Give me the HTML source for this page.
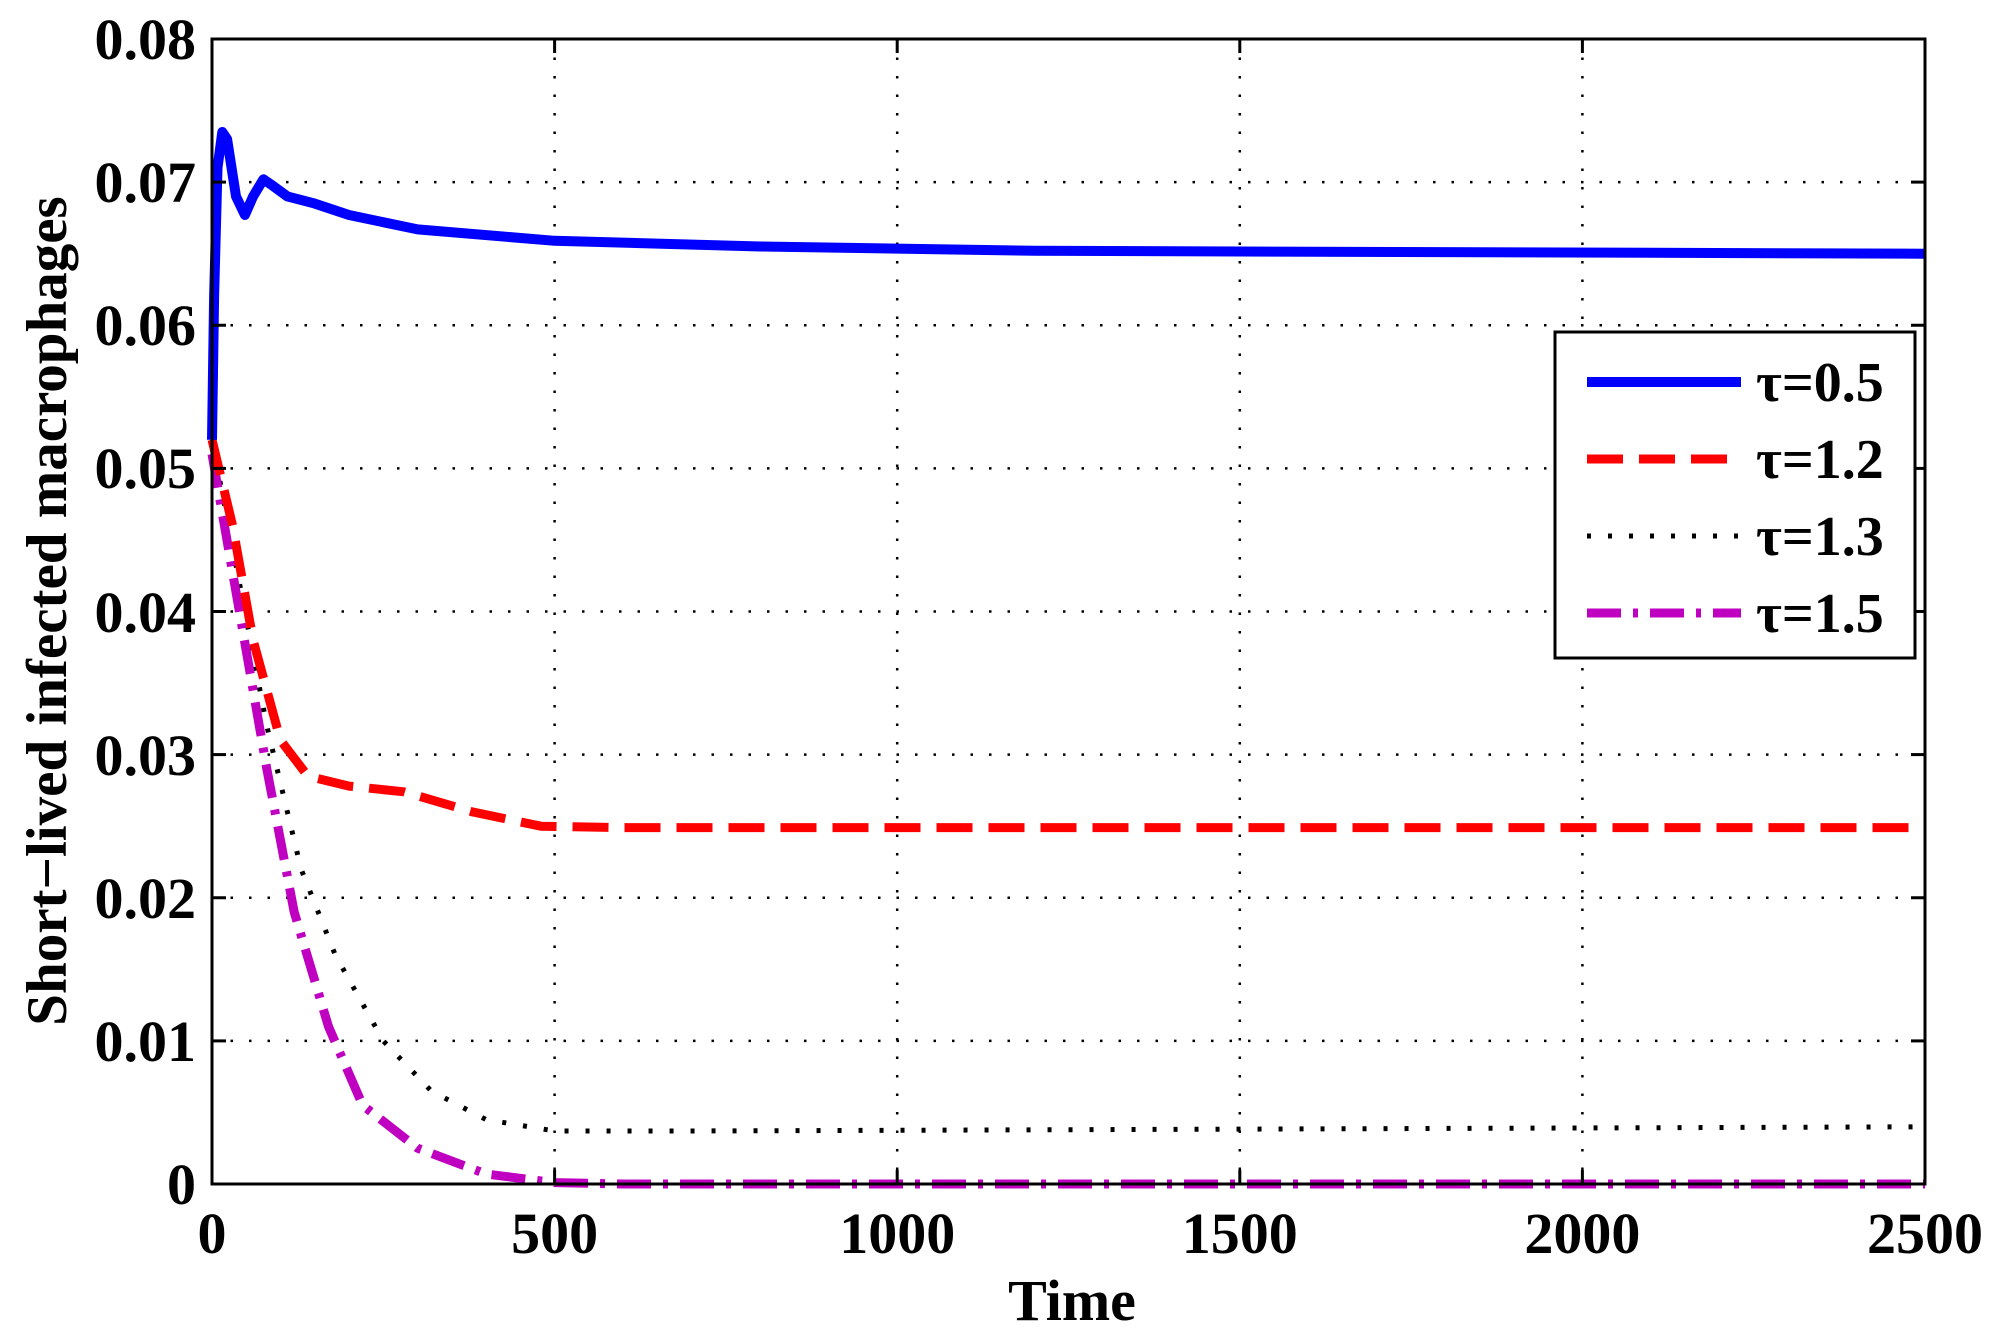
<!DOCTYPE html>
<html><head><meta charset="utf-8"><style>
html,body{margin:0;padding:0;background:#fff;}
svg text{font-family:"Liberation Serif",serif;font-weight:bold;fill:#000;}
</style></head><body>
<svg width="2005" height="1334" viewBox="0 0 2005 1334" xmlns="http://www.w3.org/2000/svg">
<rect width="2005" height="1334" fill="#fff"/>
<g stroke="#000" stroke-width="2.5" stroke-dasharray="2.5 16">
<line x1="554.6" y1="39" x2="554.6" y2="1184"/>
<line x1="897.2" y1="39" x2="897.2" y2="1184"/>
<line x1="1239.8" y1="39" x2="1239.8" y2="1184"/>
<line x1="1582.4" y1="39" x2="1582.4" y2="1184"/>
<line x1="212" y1="1040.9" x2="1925" y2="1040.9"/>
<line x1="212" y1="897.75" x2="1925" y2="897.75"/>
<line x1="212" y1="754.6" x2="1925" y2="754.6"/>
<line x1="212" y1="611.5" x2="1925" y2="611.5"/>
<line x1="212" y1="468.4" x2="1925" y2="468.4"/>
<line x1="212" y1="325.25" x2="1925" y2="325.25"/>
<line x1="212" y1="182.1" x2="1925" y2="182.1"/>
</g>
<g fill="none" stroke-linejoin="round">
<polyline stroke="#000" stroke-width="5" stroke-dasharray="4 17" points="212,439.8 239.4,582.9 266.8,726 301.1,869.1 335.3,955 383.3,1040.9 431.3,1091 486.1,1119.6 554.6,1131 691.6,1131 1925,1126.8"/>
<polyline stroke="#c000c0" stroke-width="9" stroke-dasharray="34 12 5 12" points="212,454.1 239.4,611.5 266.8,768.9 294.2,912.1 328.5,1026.6 362.7,1105.3 417.6,1148.2 486.1,1174 554.6,1182.6 623.1,1184 1925,1184"/>
<polyline stroke="#ff0000" stroke-width="9" stroke-dasharray="36 16" points="212,439.8 232.6,525.6 253.1,640.1 280.5,740.3 307.9,776.1 349,786.1 403.9,791.8 472.4,811.9 540.9,826.2 623.1,827.6 1925,827.6"/>
<polyline stroke="#0000ff" stroke-width="10" points="212,439.8 214.1,296.6 217.5,167.8 222.3,132 227.1,139.2 236,196.4 244.9,215 253.1,196.4 263.4,179.3 273.7,186.4 287.4,196.4 314.8,203.6 349,215 417.6,229.4 554.6,240.8 760.2,246.5 1034.2,250.8 1925,253.7"/>
</g>
<rect x="212" y="39" width="1713" height="1145" fill="none" stroke="#000" stroke-width="3"/>
<g stroke="#000" stroke-width="3">
<line x1="554.6" y1="1184" x2="554.6" y2="1170"/><line x1="554.6" y1="39" x2="554.6" y2="53"/>
<line x1="897.2" y1="1184" x2="897.2" y2="1170"/><line x1="897.2" y1="39" x2="897.2" y2="53"/>
<line x1="1239.8" y1="1184" x2="1239.8" y2="1170"/><line x1="1239.8" y1="39" x2="1239.8" y2="53"/>
<line x1="1582.4" y1="1184" x2="1582.4" y2="1170"/><line x1="1582.4" y1="39" x2="1582.4" y2="53"/>
<line x1="212" y1="1040.9" x2="226" y2="1040.9"/><line x1="1925" y1="1040.9" x2="1911" y2="1040.9"/>
<line x1="212" y1="897.75" x2="226" y2="897.75"/><line x1="1925" y1="897.75" x2="1911" y2="897.75"/>
<line x1="212" y1="754.6" x2="226" y2="754.6"/><line x1="1925" y1="754.6" x2="1911" y2="754.6"/>
<line x1="212" y1="611.5" x2="226" y2="611.5"/><line x1="1925" y1="611.5" x2="1911" y2="611.5"/>
<line x1="212" y1="468.4" x2="226" y2="468.4"/><line x1="1925" y1="468.4" x2="1911" y2="468.4"/>
<line x1="212" y1="325.25" x2="226" y2="325.25"/><line x1="1925" y1="325.25" x2="1911" y2="325.25"/>
<line x1="212" y1="182.1" x2="226" y2="182.1"/><line x1="1925" y1="182.1" x2="1911" y2="182.1"/>
</g>
<g font-size="58" text-anchor="middle">
<text x="212" y="1253">0</text>
<text x="554.6" y="1253">500</text>
<text x="897.2" y="1253">1000</text>
<text x="1239.8" y="1253">1500</text>
<text x="1582.4" y="1253">2000</text>
<text x="1925" y="1253">2500</text>
</g>
<g font-size="58" text-anchor="end">
<text x="196" y="1204">0</text>
<text x="196" y="1061">0.01</text>
<text x="196" y="918">0.02</text>
<text x="196" y="775">0.03</text>
<text x="196" y="632">0.04</text>
<text x="196" y="488">0.05</text>
<text x="196" y="345">0.06</text>
<text x="196" y="202">0.07</text>
<text x="196" y="59">0.08</text>
</g>
<text x="1072" y="1320" font-size="58" text-anchor="middle">Time</text>
<text transform="translate(66,611) rotate(-90)" font-size="57" text-anchor="middle">Short−lived infected macrophages</text>
<rect x="1555" y="332" width="360" height="326" fill="#fff" stroke="#000" stroke-width="3"/>
<line x1="1587" y1="382" x2="1741" y2="382" stroke="#0000ff" stroke-width="10"/>
<line x1="1587" y1="459" x2="1741" y2="459" stroke="#ff0000" stroke-width="9" stroke-dasharray="36 16"/>
<line x1="1587" y1="536" x2="1741" y2="536" stroke="#000" stroke-width="5" stroke-dasharray="4 17"/>
<line x1="1587" y1="613" x2="1741" y2="613" stroke="#c000c0" stroke-width="9" stroke-dasharray="34 12 5 12"/>
<text x="1756" y="401" font-size="56">τ=0.5</text>
<text x="1756" y="478" font-size="56">τ=1.2</text>
<text x="1756" y="555" font-size="56">τ=1.3</text>
<text x="1756" y="632" font-size="56">τ=1.5</text>
</svg>
</body></html>
